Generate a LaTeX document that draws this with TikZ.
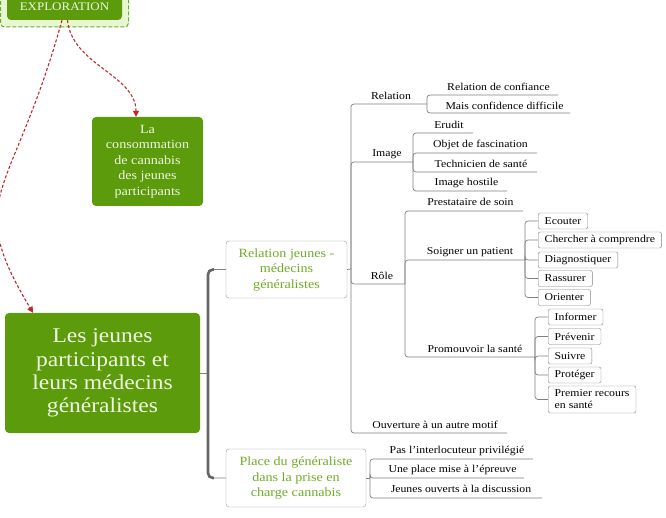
\documentclass[tikz,border=0pt]{standalone}
\usepackage{fontspec}
\setmainfont[FakeStretch=1.12]{Liberation Serif}
\usepackage{tikz}
\usetikzlibrary{arrows.meta}

\definecolor{leafgreen}{RGB}{91,155,12}
\definecolor{paletext}{RGB}{240,250,225}
\definecolor{titlegreen}{RGB}{110,172,40}
\definecolor{palegreen}{RGB}{230,247,210}
\definecolor{linkred}{RGB}{192,40,45}
\definecolor{linegray}{RGB}{128,128,128}

\begin{document}
\begin{tikzpicture}
	[
	x=1pt, y=-1pt,
	align=center,
	idea/.style={fill=leafgreen, text=paletext, rounded corners=4pt, inner sep=0pt},
	branch/.style={draw=linegray!80, fill=white, text=titlegreen, rounded corners=3pt, inner sep=0pt, font=\fontsize{12.6}{15.5}\selectfont},
	topic/.style={inner sep=0pt, text=black, font=\fontsize{10.5}{12}\selectfont},
	leafbox/.style={topic, draw=linegray, rounded corners=2pt, anchor=west, inner xsep=6.5pt, minimum height=16pt, align=left},
	tree/.style={draw=linegray, line width=0.7pt, rounded corners=3pt},
	trunk/.style={draw=black!60, line width=2.6pt, rounded corners=5pt},
	link/.style={draw=linkred, line width=1.1pt, dash pattern=on 3pt off 2pt, -{Triangle[length=6pt,width=6pt]}},
	]
	\useasboundingbox (0,0) rectangle (666,518);
	
		% exploration
		\node[draw=titlegreen, dash pattern=on 4pt off 2pt, line width=1pt, fill=palegreen, rounded corners=4pt, minimum width=128pt, minimum height=42pt] (explframe) at (64.5,6) {};
		\node[idea, minimum width=115pt, minimum height=26pt, font=\fontsize{11.6}{13}\selectfont] (expl) at (64.5,7) {EXPLORATION};
		
		% green ideas
		\node[idea, minimum width=111pt, minimum height=89pt, font=\fontsize{12.6}{15.5}\selectfont] (conso) at (147.5,161.5) {La\\consommation\\de cannabis\\des jeunes\\participants};
		\node[idea, minimum width=195pt, minimum height=120pt, font=\fontsize{21}{23.3}\selectfont] (main) at (102.5,373) {Les jeunes\\participants et\\leurs médecins\\généralistes};
		
		\draw[link] ([xshift=-2.5pt]expl.south) .. controls (12,201) and (-38,194) .. ([xshift=-69.5pt]main.north);
		\draw[link] ([xshift=3pt]expl.south) .. controls (72,65) and (136,75) .. ([xshift=-11.5pt]conso.north);
		
		% branches
		\node[branch, minimum width=121pt, minimum height=57pt] (relbox) at (286.5,269.5) {Relation jeunes -\\médecins\\généralistes};
		\node[branch, minimum width=140pt, minimum height=58pt] (placebox) at (296,478) {Place du généraliste\\dans la prise en\\charge cannabis};
		
		\coordinate (mj) at (208,373);
		\draw[tree] (main.east) -- (mj);
		\foreach \to in {relbox,placebox} \draw[tree] (mj) |- (\to.west);
		\draw[trunk] ([xshift=-12pt]relbox.west) -| (mj) |- ([xshift=-12pt]placebox.west);
		
		% relation jeunes - medecins
		\node[topic] (rel) at 		(391,96) {Relation};
		\node[topic] (conf) at 		(498.5,87) {Relation de confiance};
		\node[topic] (mais) at 		(504.5,106) {Mais confidence difficile};
		\node[topic] (ima) at 		(387,154) {Image};
		\node[topic] (eru) at 		(449,125) {Erudit};
		\node[topic] (obj) at 		(480.5,145) {Objet de fascination};
		\node[topic] (tech) at 		(481,164) {Technicien de santé};
		\node[topic] (host) at 		(466.5,183) {Image hostile};
		\node[topic] (role) at 		(382,276) {Rôle};
		\node[topic] (prest) at 	(470.5,202) {Prestataire de soin};
		\node[topic] (soig) at 		(470,252) {Soigner un patient};
		\node[topic] (prom) at 		(475,349) {Promouvoir la santé};
		\node[topic] (ouv) at 		(435,425) {Ouverture à un autre motif};
		
		% soigner un patient
		\node[leafbox] (ecou) at 	(538,221) {Ecouter};
		\node[leafbox] (cher) at 	(538,240) {Chercher à comprendre};
		\node[leafbox] (diag) at 	(538,260) {Diagnostiquer};
		\node[leafbox] (rass) at 	(538,278.5) {Rassurer};
		\node[leafbox] (orie) at 	(538,297.5) {Orienter};
		
		% promouvoir la sante
		\node[leafbox] (info) at 	(548,317) {Informer};
		\node[leafbox] (prev) at 	(548,336.5) {Prévenir};
		\node[leafbox] (suiv) at 	(548,356) {Suivre};
		\node[leafbox] (prot) at 	(548,375) {Protéger};
		\node[leafbox, minimum height=27pt] (prem) at (548,399.5) {Premier recours\\en santé};
		
		% place du generaliste
		\node[topic] (pas) at 		(457,451) {Pas l'interlocuteur privilégié};
		\node[topic] (une) at 		(452.5,470) {Une place mise à l'épreuve};
		\node[topic] (jeu) at 		(461,489) {Jeunes ouverts à la discussion};
		
		% underline ends
		\coordinate (sp) at (351,269);
		\coordinate (rel-e) at (427,104);
		\coordinate (conf-e) at (558,95);
		\coordinate (mais-e) at (570,113);
		\coordinate (ima-e) at (413,162);
		\coordinate (eru-e) at (473,133);
		\coordinate (obj-e) at (537,153);
		\coordinate (tech-e) at (537,172);
		\coordinate (host-e) at (507,191);
		\coordinate (role-e) at (405,284);
		\coordinate (prest-e) at (523,211);
		\coordinate (soig-e) at (525,260);
		\coordinate (prom-e) at (535,357);
		\coordinate (ouv-e) at (507,433);
		\coordinate (pl-j) at (370,478);
		\coordinate (pas-e) at (533,459);
		\coordinate (une-e) at (524,478);
		\coordinate (jeu-e) at (542,498);
		
		\draw[tree] (relbox.east) -- (sp);
		\draw[tree] (placebox.east) -- (pl-j);
		\foreach \from/\to in {sp/rel-e,sp/ima-e,sp/role-e,sp/ouv-e,rel-e/conf-e,rel-e/mais-e,ima-e/eru-e,ima-e/obj-e,ima-e/tech-e,ima-e/host-e,role-e/prest-e,role-e/soig-e,role-e/prom-e,pl-j/pas-e,pl-j/une-e,pl-j/jeu-e} \draw[tree] (\from) |- (\to);
		\foreach \from/\to in {soig-e/ecou,soig-e/cher,soig-e/diag,soig-e/rass,soig-e/orie,prom-e/info,prom-e/prev,prom-e/suiv,prom-e/prot,prom-e/prem} \draw[tree] (\from) |- (\to.west);
		
	\end{tikzpicture}
\end{document}
